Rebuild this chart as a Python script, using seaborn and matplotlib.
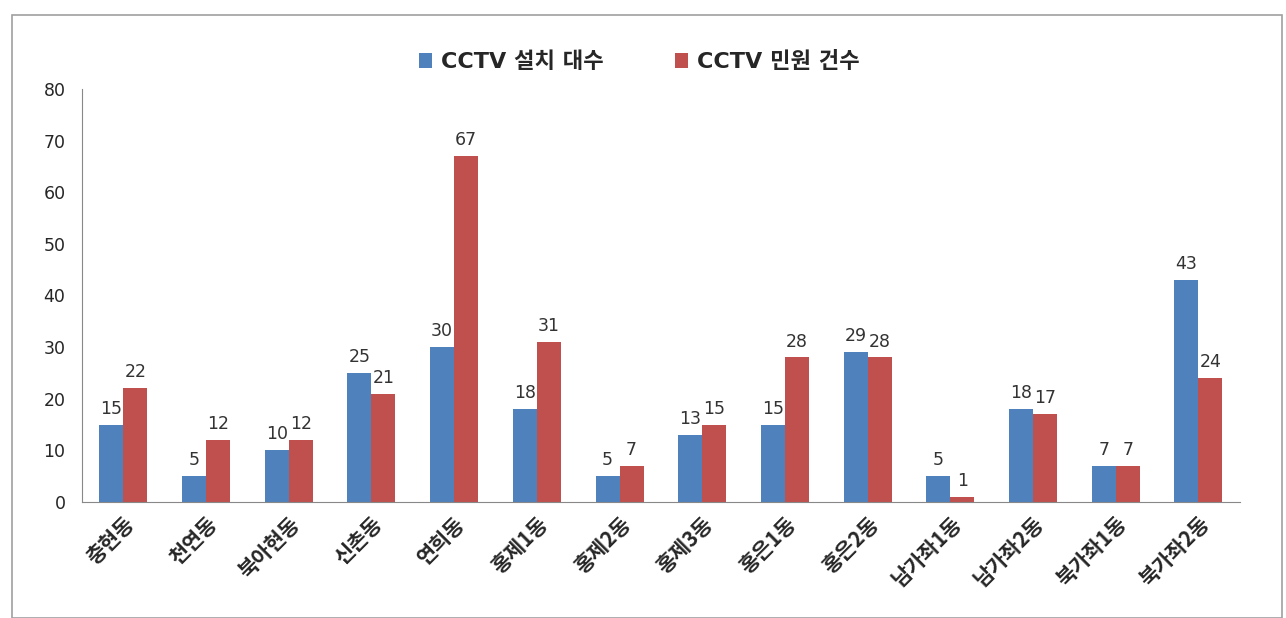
import pandas as pd
import numpy as np
import matplotlib.pyplot as plt
import seaborn as sns
from matplotlib.patches import Rectangle

# data
districts = ['충현동', '천연동', '북아현동', '신촌동', '연희동', '홍제1동', '홍제2동',
             '홍제3동', '홍은1동', '홍은2동', '남가좌1동', '남가좌2동', '북가좌1동', '북가좌2동']
cctv_installed = [15, 5, 10, 25, 30, 18, 5, 13, 15, 29, 5, 18, 7, 43]
cctv_complaints = [22, 12, 12, 21, 67, 31, 7, 15, 28, 28, 1, 17, 7, 24]
series_names = ['CCTV 설치 대수', 'CCTV 민원 건수']
colors = ['#4F81BD', '#C0504D']

df = pd.DataFrame({
    '동': districts * 2,
    'value': cctv_installed + cctv_complaints,
    'series': [series_names[0]] * len(districts) + [series_names[1]] * len(districts),
})

sns.set_style('white')
plt.rcParams['font.family'] = ['DejaVu Sans', 'Noto Sans CJK KR']

fig = plt.figure(figsize=(12.86, 6.18), dpi=100)
ax = fig.add_axes([0.0638, 0.1877, 0.9002, 0.6683])

sns.barplot(data=df, x='동', y='value', hue='series', palette=colors,
            width=0.58, saturation=1, linewidth=0, ax=ax, legend=True)

for c in ax.containers:
    ax.bar_label(c, fontsize=12.5, color='#333333', padding=5)

ax.set_ylim(0, 80)
ax.set_yticks(range(0, 81, 10))
ax.set_xlim(-0.5, len(districts) - 0.5)
ax.set_xlabel('')
ax.set_ylabel('')

# tick marks between categories like Excel
ax.set_xticks(np.arange(-0.5, len(districts)), minor=True)
ax.tick_params(axis='x', which='major', length=0, pad=8)
ax.tick_params(axis='x', which='minor', length=6, color='#888888', direction='out')
ax.tick_params(axis='y', length=6, color='#888888', direction='out', labelsize=12.5, pad=6)
ax.set_xticklabels(districts, rotation=45, ha='right', rotation_mode='anchor',
                   fontsize=15, fontweight='bold', family=['Noto Sans CJK KR'])

for side in ['top', 'right']:
    ax.spines[side].set_visible(False)
for side in ['left', 'bottom']:
    ax.spines[side].set_color('#888888')

leg = ax.legend(loc='center', bbox_to_anchor=(0.497, 0.9), bbox_transform=fig.transFigure,
                ncol=2, frameon=False,
                handlelength=0.6, handleheight=0.6, columnspacing=3.2, handletextpad=0.4,
                prop={'family': ['DejaVu Sans', 'Noto Sans CJK KR'], 'weight': 'bold', 'size': 16})

# chart area border as in the spreadsheet screenshot
fig.patches.append(Rectangle((12 / 1286, 0), 1270 / 1286, 1 - 15 / 618,
                             transform=fig.transFigure, fill=False,
                             edgecolor='#A0A0A0', linewidth=1.2))

fig.savefig('out.png', dpi=100)
